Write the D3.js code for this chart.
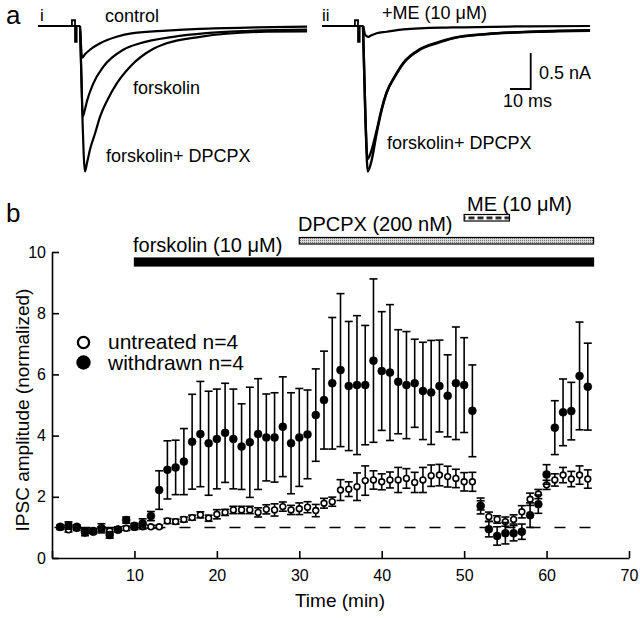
<!DOCTYPE html>
<html>
<head>
<meta charset="utf-8">
<style>
  body { margin: 0; padding: 0; background: #fff; }
  svg { display: block; font-family: 'Liberation Sans', Arial, sans-serif; }
</style>
</head>
<body>
<div id="chart"></div>
<script src="https://cdn.jsdelivr.net/npm/d3@7"></script>
<script>
// ---- panel a: example traces (ms after stimulus, nA) ----
const controlI = [[-20.3,0],[0,0],[0.6,-0.32],[1.0,-0.44],[2.5,-0.39],[4.8,-0.33],[9.7,-0.24],[17.7,-0.15],[25.6,-0.10],[41.9,-0.065],[58,-0.04],[85,-0.02],[109.7,-0.01]];
const forskI = [[0,0],[0.7,-0.7],[1.3,-1.26],[2.2,-1.18],[3.5,-1.03],[6.4,-0.80],[11.3,-0.565],[20.9,-0.33],[29,-0.24],[45,-0.15],[61,-0.10],[80,-0.07],[109.7,-0.05]];
const dpcpxI = [[0,0],[1.2,-1.3],[2.4,-2.02],[3.4,-1.9],[4.8,-1.72],[7.3,-1.49],[9.7,-1.26],[13.2,-1.03],[17.7,-0.80],[24.2,-0.565],[34.6,-0.33],[41.9,-0.24],[58,-0.15],[90,-0.08],[109.7,-0.075]];
const meII = [[-19.8,0],[0,0],[1,-0.12],[2.5,-0.15],[4,-0.13],[6.6,-0.10],[11.4,-0.08],[19.5,-0.046],[43.6,-0.02],[80,-0.005],[109.7,0]];
const dpcpxII = [[0,0],[1.2,-1.3],[2.3,-2.02],[4.2,-1.86],[6.6,-1.49],[9,-1.17],[11.4,-0.93],[15.5,-0.70],[19.5,-0.52],[27.5,-0.33],[35.6,-0.24],[43.6,-0.17],[59.7,-0.115],[83.8,-0.08],[109.7,-0.065]];
const dpcpxII2 = [[0,0],[1.1,-1.2],[2.2,-1.85],[4.2,-1.72],[6.6,-1.45],[9,-1.15],[11.4,-0.92],[15.5,-0.69],[19.5,-0.51],[27.5,-0.32],[35.6,-0.23],[43.6,-0.165],[59.7,-0.11],[83.8,-0.075],[109.7,-0.06]];
const artifact = [[-3.9,0],[-3.9,0.08],[-2.4,0.08],[-2.4,-0.22],[-1.6,-0.22],[-1.6,0]];
const scaleBarMs = 10, scaleBarNA = 0.5;

// ---- panel b: time course ----
const minutes = [1,2,3,4,5,6,7,8,9,10,11,12,13,14,15,16,17,18,19,20,21,22,23,24,25,26,27,28,29,30,31,32,33,34,35,36,37,38,39,40,41,42,43,44,45,46,47,48,49,50,51,52,53,54,55,56,57,58,59,60,61,62,63,64,65];
const withdrawnMean = [1.02,1.06,1.02,0.83,0.86,0.97,0.75,0.92,1.24,1.05,1.13,1.37,2.22,2.88,2.96,3.15,3.80,4.05,3.75,3.89,4.09,3.89,3.64,3.78,4.05,3.94,3.94,4.29,3.75,3.94,4.04,4.67,5.16,5.71,6.14,5.62,5.65,5.65,6.45,6.11,6.06,5.76,5.65,5.71,5.46,5.41,5.62,5.30,5.71,5.65,4.81,1.70,0.94,0.72,0.81,0.81,0.86,1.40,1.76,2.73,4.26,4.76,4.80,5.95,5.60];
const withdrawnSem = [0.05,0.12,0.06,0.10,0.06,0.15,0.10,0.06,0.10,0.08,0.15,0.15,0.63,0.95,0.89,1.08,1.55,1.72,1.70,1.63,1.62,1.63,1.40,1.80,1.81,1.42,1.46,1.63,1.65,1.60,1.45,1.51,1.60,2.15,2.50,2.11,2.27,1.95,2.67,1.94,2.22,1.70,1.75,1.44,1.59,1.70,1.50,1.34,1.84,1.55,1.50,0.26,0.25,0.30,0.35,0.25,0.25,0.40,0.30,0.32,0.88,1.09,0.94,1.76,1.42];
const untreatedMean = [1.00,0.92,0.97,0.88,0.90,0.95,0.88,0.95,0.97,1.00,1.02,1.02,1.02,1.21,1.19,1.26,1.32,1.41,1.30,1.43,1.49,1.57,1.57,1.57,1.49,1.59,1.57,1.68,1.57,1.61,1.66,1.55,1.79,1.84,2.22,2.25,2.33,2.53,2.55,2.49,2.55,2.55,2.60,2.47,2.55,2.69,2.71,2.66,2.60,2.49,2.49,1.72,1.35,1.26,1.19,1.26,1.51,1.92,2.09,2.39,2.55,2.71,2.58,2.71,2.58];
const untreatedSem = [0.07,0.07,0.07,0.07,0.07,0.07,0.07,0.07,0.07,0.07,0.07,0.05,0.05,0.08,0.08,0.08,0.08,0.10,0.10,0.15,0.10,0.12,0.12,0.12,0.15,0.15,0.20,0.15,0.15,0.19,0.18,0.20,0.16,0.15,0.34,0.24,0.45,0.48,0.30,0.26,0.26,0.41,0.32,0.33,0.41,0.35,0.35,0.34,0.30,0.30,0.31,0.15,0.15,0.12,0.15,0.15,0.20,0.20,0.15,0.15,0.20,0.25,0.25,0.30,0.30];
const xTicks = [0,10,20,30,40,50,60,70];
const yTicks = [0,2,4,6,8,10];
const drugNames = ["forskolin (10 \u03bcM)", "DPCPX (200 nM)", "ME (10 \u03bcM)"];
const drugStart = [10, 30, 50];
const drugEnd = [65.7, 65.7, 55.5];
const legendLabels = ["untreated n=4", "withdrawn n=4"];

const W = 640, H = 618;
const svg = d3.select("#chart").append("svg").attr("width", W).attr("height", H);

const defs = svg.append("defs");
const pat = defs.append("pattern").attr("id", "meHatch").attr("patternUnits", "userSpaceOnUse")
  .attr("width", 9).attr("height", 7).attr("x", 467).attr("y", 214.5);
pat.append("rect").attr("width", 9).attr("height", 7).attr("fill", "#fff");
pat.append("rect").attr("x", 1.5).attr("y", 2).attr("width", 6).attr("height", 2.8).attr("fill", "#222");
const pat2 = defs.append("pattern").attr("id", "dpHatch").attr("patternUnits", "userSpaceOnUse")
  .attr("width", 2).attr("height", 2);
pat2.append("rect").attr("width", 2).attr("height", 2).attr("fill", "#d8d8d8");
pat2.append("rect").attr("width", 1).attr("height", 1).attr("fill", "#777");

// ---------- panel a ----------
const msPx = 2.07, nAPx = 72;
const yA = d3.scaleLinear().domain([0, -1]).range([26, 26 + nAPx]);
const xAi = d3.scaleLinear().domain([0, 1]).range([80, 80 + msPx]);
const xAii = d3.scaleLinear().domain([0, 1]).range([363, 363 + msPx]);

function trace(xs, data, w) {
  const line = d3.line().x(d => xs(d[0])).y(d => yA(d[1])).curve(d3.curveMonotoneX);
  svg.append("path").attr("d", line(data)).attr("fill", "none")
    .attr("stroke", "#000").attr("stroke-width", w).attr("stroke-linejoin", "round");
}
function art(xs) {
  const line = d3.line().x(d => xs(d[0])).y(d => yA(d[1]));
  svg.append("path").attr("d", line(artifact)).attr("fill", "none")
    .attr("stroke", "#000").attr("stroke-width", 1.8);
}
trace(xAi, controlI, 2.2);
trace(xAi, forskI, 2.2);
trace(xAi, dpcpxI, 2.2);
art(xAi);
trace(xAii, meII, 2.2);
trace(xAii, dpcpxII, 2.4);
trace(xAii, dpcpxII2, 2.4);
art(xAii);

// scale bar
const sbX = 530.7, sbY = 89;
svg.append("path")
  .attr("d", `M${sbX - scaleBarMs * msPx},${sbY}H${sbX}V${sbY - scaleBarNA * nAPx}`)
  .attr("fill", "none").attr("stroke", "#000").attr("stroke-width", 1.8);

function txt(x, y, s, size, anchor) {
  return svg.append("text").attr("x", x).attr("y", y).attr("font-size", size)
    .attr("text-anchor", anchor || "start").attr("fill", "#000").text(s);
}
txt(6, 24, "a", 26);
txt(40, 21, "i", 17);
txt(322, 21, "ii", 17);
txt(105, 22, "control", 18);
txt(133, 94, "forskolin", 18);
txt(106, 162, "forskolin+ DPCPX", 18);
txt(382, 19, "+ME (10 \u03bcM)", 18);
txt(387, 149, "forskolin+ DPCPX", 18);
txt(539, 79, "0.5 nA", 18);
txt(503, 107, "10 ms", 18);

// ---------- panel b ----------
const x = d3.scaleLinear().domain([0, 70]).range([52, 629]);
const y = d3.scaleLinear().domain([0, 10]).range([558, 252]);

txt(6, 222, "b", 26);

const gx = svg.append("g").attr("transform", `translate(0,${y(0)})`)
  .call(d3.axisBottom(x).tickValues(xTicks).tickSizeInner(-7).tickSizeOuter(0).tickPadding(12)
    .tickFormat(d => d === 0 ? "" : d));
const gy = svg.append("g").attr("transform", `translate(${x(0)},0)`)
  .call(d3.axisLeft(y).tickValues(yTicks).tickSizeInner(-7).tickSizeOuter(0).tickPadding(6));
[gx, gy].forEach(g => {
  g.selectAll("path, line").attr("stroke", "#000").attr("stroke-width", 1.6);
  g.selectAll("text").attr("font-size", 16).attr("font-family", "'Liberation Sans', Arial, sans-serif").attr("fill", "#000");
});

svg.append("text").attr("x", 340).attr("y", 607).attr("text-anchor", "middle")
  .attr("font-size", 19).text("Time (min)");
svg.append("text").attr("transform", "translate(29,410) rotate(-90)").attr("text-anchor", "middle")
  .attr("font-size", 19).text("IPSC amplitude (normalized)");

// drug bars
const barY = [258, 237.5, 214.5], barH = [8, 6.5, 6.5];
const barFill = ["#000", "url(#dpHatch)", "url(#meHatch)"];
drugNames.forEach((n, i) => {
  svg.append("rect").attr("x", x(drugStart[i])).attr("y", barY[i])
    .attr("width", x(drugEnd[i]) - x(drugStart[i])).attr("height", barH[i])
    .attr("fill", barFill[i]).attr("stroke", "#000").attr("stroke-width", 1.2);
});
txt(133, 252, drugNames[0], 20);
txt(298, 231, drugNames[1], 20);
txt(467, 211, drugNames[2], 20);

// baseline dashed
svg.append("line").attr("x1", x(0.3)).attr("x2", x(67)).attr("y1", y(1)).attr("y2", y(1))
  .attr("stroke", "#000").attr("stroke-width", 1.5).attr("stroke-dasharray", "11,14");

function series(means, sems, filled) {
  const g = svg.append("g");
  const pts = minutes.map((t, i) => ({ t, m: means[i], s: sems[i] }));
  g.selectAll("line.eb").data(pts).join("line")
    .attr("x1", d => x(d.t)).attr("x2", d => x(d.t))
    .attr("y1", d => y(d.m - d.s)).attr("y2", d => y(d.m + d.s))
    .attr("stroke", "#000").attr("stroke-width", 1.6);
  [1, -1].forEach(sg => {
    g.selectAll(null).data(pts).join("line")
      .attr("x1", d => x(d.t) - 4).attr("x2", d => x(d.t) + 4)
      .attr("y1", d => y(d.m + sg * d.s)).attr("y2", d => y(d.m + sg * d.s))
      .attr("stroke", "#000").attr("stroke-width", 1.6);
  });
  g.selectAll("circle").data(pts).join("circle")
    .attr("cx", d => x(d.t)).attr("cy", d => y(d.m))
    .attr("r", filled ? 4 : 2.9)
    .attr("fill", filled ? "#000" : "#fff").attr("stroke", "#000").attr("stroke-width", filled ? 0.5 : 1.6);
}
series(untreatedMean, untreatedSem, false);
series(withdrawnMean, withdrawnSem, true);

// legend
svg.append("circle").attr("cx", 83.5).attr("cy", 342.5).attr("r", 5.6).attr("fill", "#fff")
  .attr("stroke", "#000").attr("stroke-width", 2.3);
svg.append("circle").attr("cx", 83.5).attr("cy", 362.5).attr("r", 7.2).attr("fill", "#000");
txt(108, 349, legendLabels[0], 21);
txt(108, 370, legendLabels[1], 21);
</script>
</body>
</html>
